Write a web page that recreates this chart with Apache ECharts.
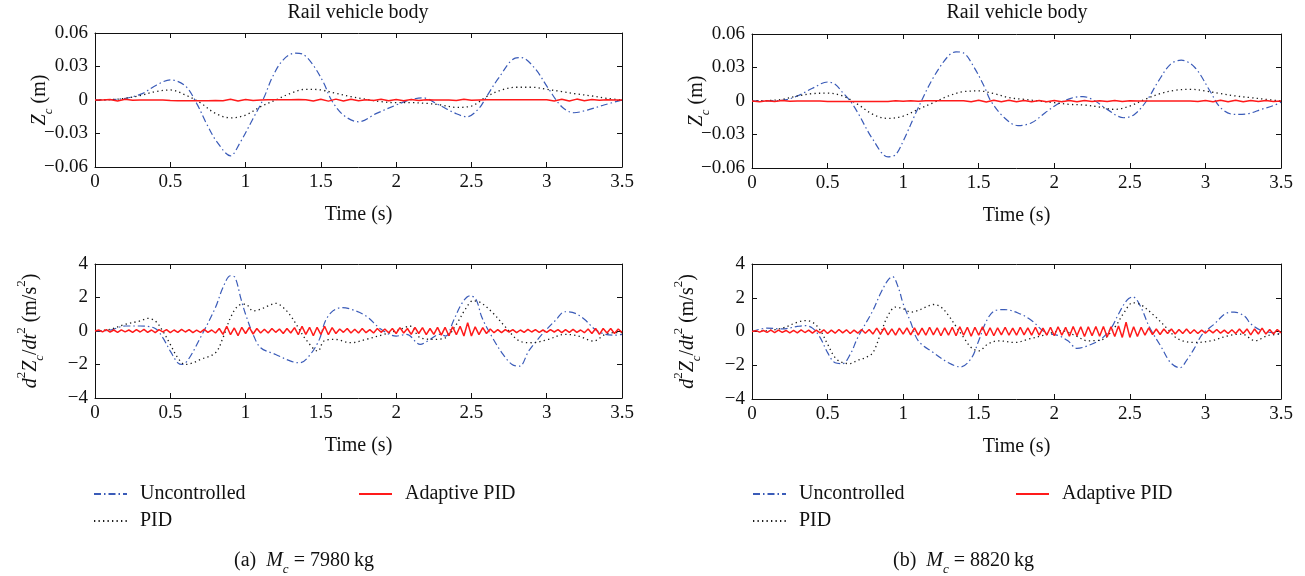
<!DOCTYPE html>
<html>
  <head>
    <meta charset="utf-8" />
    <title>Rail vehicle body</title>
    <script src="https://cdn.jsdelivr.net/npm/echarts@6/dist/echarts.min.js"></script>
  </head>
  <body style="margin:0;background:#fff">
    <div id="container" style="width:1305px;height:576px;"></div>

    <script type="text/javascript">
    // ---- data ----
    // 0.1 s grid used by the PID traces of the top plots
    var t10 = [0, 0.1, 0.2, 0.3, 0.4, 0.5, 0.6, 0.7, 0.8, 0.9, 1.0, 1.1, 1.2, 1.3, 1.4, 1.5, 1.6, 1.7, 1.8, 1.9,
      2.0, 2.1, 2.2, 2.3, 2.4, 2.5, 2.6, 2.7, 2.8, 2.9, 3.0, 3.1, 3.2, 3.3, 3.4, 3.5];
    var dtRedTop = 0.05;   // sample step of the Adaptive PID trace, top plots
    var dtRedBot = 0.025;  // sample step of the Adaptive PID trace, bottom plots

    // (a) Mc = 7980 kg, displacement Zc (m)
    var aTopUncT = [0, 0.14, 0.3, 0.41, 0.5, 0.6, 0.675, 0.74, 0.81, 0.9, 0.96, 1.05, 1.12, 1.18, 1.25, 1.33, 1.38, 1.45, 1.52, 1.57,
      1.65, 1.75, 1.87, 2.0, 2.09, 2.175, 2.285, 2.395, 2.47, 2.55, 2.6, 2.68, 2.79, 2.83, 2.92, 3.01, 3.1, 3.18, 3.27, 3.38, 3.5];
    var aTopUncV = [0, 0.0005, 0.005, 0.0135, 0.018, 0.0126, -0.003, -0.021, -0.0375, -0.05, -0.039, -0.0165, 0.0015, 0.021, 0.036, 0.042, 0.041, 0.031, 0.015, 0,
      -0.0135, -0.0195, -0.012, -0.0045, 0, 0.002, -0.0045, -0.012, -0.015, -0.0075, 0.003, 0.0195, 0.0375, 0.038, 0.0285, 0.0105, -0.006, -0.0114, -0.009, -0.0045, 0];
    var aTopPidV = [0, 0.0003, 0.0015, 0.004, 0.0075, 0.009, 0.0045, -0.0025, -0.012, -0.016, -0.0135, -0.006, 0, 0.006, 0.0096, 0.009, 0.006, 0.003, 0.0006, -0.0015,
      -0.0024, -0.0024, -0.003, -0.0045, -0.0066, -0.0054, 0.003, 0.009, 0.0114, 0.0114, 0.0096, 0.0075, 0.0054, 0.0036, 0.0015, 0];
    var aTopApidV = [0, 0, 0.0005, -0.0008, 0.0006, -0.0003, 0, 0, 0, 0,
      -0.0005, -0.0006, -0.0006, -0.0006, -0.0006, -0.0006, -0.0005, -0.0006,
      0.0006, -0.0008, 0.0005, -0.0004, 0, 0.0003,
      0.0003, 0.0003, 0.0003, 0.0004,
      0.0002, -0.0009, 0.0007, -0.001, 0.0008, -0.0009, 0.0007, -0.0006,
      0.0003, -0.0005, 0.0006, -0.0006, 0.0005, -0.0007, 0.0004, -0.0004, 0.0003, 0,
      0, 0, -0.0004, 0.0006, -0.0003, 0, 0.0002, 0.0003, 0.0003, 0.0003, 0.0003, 0.0003, 0.0003, 0.0003,
      0.0002, -0.0008, 0.0007, -0.0009, 0.0008, -0.0006, 0.0004, -0.0003, 0.0002, 0, 0];

    // (a) acceleration d2Zc/dt2 (m/s2)
    var aBotUncT = [0, 0.1, 0.2, 0.3, 0.4, 0.45, 0.5, 0.55, 0.58, 0.62, 0.7, 0.8, 0.85, 0.9, 0.93, 0.97, 1.0, 1.05, 1.1, 1.2,
      1.3, 1.36, 1.43, 1.49, 1.53, 1.58, 1.64, 1.7, 1.8, 1.9, 2.0, 2.07, 2.16, 2.21, 2.29, 2.33, 2.38, 2.44, 2.49, 2.53,
      2.57, 2.64, 2.71, 2.77, 2.82, 2.88, 2.95, 3.0, 3.06, 3.12, 3.19, 3.25, 3.32, 3.39, 3.45, 3.5];
    var aBotUncV = [0, 0.05, 0.3, 0.3, 0.15, -0.4, -1.2, -1.9, -2.0, -1.7, -0.4, 1.4, 2.6, 3.3, 3.2, 1.9, 1.0, -0.2, -1.0, -1.4,
      -1.8, -1.9, -1.4, -0.5, 0.6, 1.2, 1.4, 1.3, 0.9, 0.1, -0.3, -0.2, -0.8, -0.6, -0.2, -0.3, 0.6, 1.7, 2.1, 1.9,
      0.8, -0.4, -1.4, -2.0, -2.1, -1.2, -0.4, 0.1, 0.65, 1.15, 1.05, 0.7, 0.1, -0.2, -0.25, -0.2];
    var aBotPidT = [0, 0.1, 0.2, 0.3, 0.35, 0.4, 0.45, 0.5, 0.55, 0.6, 0.65, 0.7, 0.8, 0.85, 0.9, 0.95, 1.0, 1.05, 1.1, 1.15,
      1.2, 1.25, 1.3, 1.35, 1.4, 1.48, 1.52, 1.59, 1.7, 1.8, 1.92, 2.03, 2.09, 2.16, 2.25, 2.33, 2.4, 2.46, 2.51, 2.56,
      2.64, 2.73, 2.82, 2.9, 3.01, 3.12, 3.21, 3.31, 3.39, 3.45, 3.5];
    var aBotPidV = [0, 0.1, 0.4, 0.6, 0.75, 0.6, 0, -0.8, -1.6, -2.0, -1.9, -1.7, -1.3, -0.4, 0.8, 1.5, 1.6, 1.2, 1.3, 1.5,
      1.65, 1.4, 0.9, 0.2, -0.5, -1.2, -0.6, -0.5, -0.7, -0.5, -0.2, 0.1, 0.3, -0.4, -0.5, -0.4, 0.4, 1.3, 1.8, 1.7,
      1.1, 0.2, -0.6, -0.7, -0.5, -0.2, -0.3, -0.6, -0.2, -0.1, -0.1];
    var aBotApidV = [0, 0.06, -0.05, 0.08, -0.06, 0.06, -0.08, 0.07, -0.05, 0.06, -0.08, 0.08,
      -0.06, 0.1, -0.08, 0.06, -0.1, 0.08, -0.05, 0.08, -0.1, 0.06, -0.08, 0.1, -0.06, 0.08, -0.1, 0.05, -0.08, 0.1, -0.08, 0.06,
      -0.12, 0.15, -0.2, 0.28, -0.22, 0.18, -0.28, 0.22, -0.15, 0.22, -0.18, 0.15,
      -0.12, 0.1, -0.12, 0.15, -0.08, 0.12, -0.15, 0.15, -0.12, 0.2,
      -0.22, 0.28, -0.2, 0.22, -0.28, 0.22, -0.2, 0.28, -0.22, 0.2,
      -0.15, 0.12, -0.08, 0.15, -0.12, 0.1, -0.12, 0.15, -0.1, 0.08, -0.12, 0.15, -0.08, 0.12, -0.1, 0.15,
      -0.15, 0.2, -0.12, 0.15, -0.2, 0.22, -0.15, 0.2, -0.22, 0.15, -0.2, 0.22,
      -0.25, 0.22, -0.28, 0.25, -0.22, 0.28, -0.3, 0.5, -0.3, 0.25, -0.22, 0.2, -0.15,
      0.12, -0.1, 0.08, -0.1, 0.08, -0.06, 0.08, -0.1, 0.06, -0.08, 0.1, -0.06, 0.08, -0.08, 0.06, -0.08,
      0.08, -0.06, 0.08, -0.1, 0.08, -0.08, 0.1, -0.08, 0.06, -0.1, 0.12, -0.15,
      0.15, -0.2, 0.15, -0.12, 0.15, -0.15, 0.12, -0.08];

    // (b) Mc = 8820 kg, displacement Zc (m)
    var bTopUncT = [0, 0.2, 0.3, 0.4, 0.5, 0.55, 0.6, 0.65, 0.7, 0.8, 0.9, 0.95, 1.0, 1.1, 1.2, 1.3, 1.35, 1.4, 1.47, 1.54,
      1.58, 1.67, 1.76, 1.85, 1.94, 2.02, 2.11, 2.19, 2.27, 2.35, 2.46, 2.53, 2.61, 2.69, 2.77, 2.84, 2.93, 3.03, 3.1, 3.19,
      3.28, 3.37, 3.46, 3.5];
    var bTopUncV = [0, 0.0006, 0.0045, 0.0114, 0.017, 0.015, 0.0075, 0, -0.0105, -0.0345, -0.05, -0.048, -0.036, -0.006, 0.021, 0.0405, 0.044, 0.043, 0.03, 0.012,
      0, -0.015, -0.022, -0.0195, -0.0105, -0.003, 0.0024, 0.004, 0, -0.0075, -0.015, -0.012, 0, 0.018, 0.033, 0.0366, 0.03, 0.009, -0.006, -0.012,
      -0.0114, -0.0075, -0.0036, -0.001];
    var bTopPidV = [0, 0.0003, 0.0015, 0.0045, 0.0066, 0.007, 0.0045, -0.003, -0.012, -0.0156, -0.0135, -0.0075, -0.0015, 0.0045, 0.0084, 0.009, 0.0066, 0.003, 0.0015, 0,
      -0.0015, -0.003, -0.0036, -0.0054, -0.0075, -0.0045, 0.0015, 0.0066, 0.0096, 0.0105, 0.009, 0.0066, 0.0045, 0.003, 0.0015, 0];
    var bTopApidV = [0, -0.0006, 0.0003, -0.0005, 0.0004, -0.0003, 0, 0, 0, 0,
      -0.0004, -0.0005, -0.0005, -0.0005, -0.0005, -0.0005, -0.0005, -0.0005,
      -0.0004, 0.0003, -0.0003, 0.0003, -0.0002, 0.0002,
      0.0003, 0.0003, 0.0003, 0.0003,
      0.0003, -0.0007, 0.0006, -0.0008, 0.0007, -0.0007, 0.0006, -0.0006,
      0.0005, -0.0006, 0.0005, -0.0006, 0.0005, -0.0006, 0.0005, -0.0006, 0.0004, -0.0004,
      0.0003, -0.0005, 0.0004, -0.0004, 0.0002, 0, 0.0001, 0.0001, 0.0001, 0.0001, 0.0001, 0.0001, 0.0001, -0.0004,
      0.0005, -0.0007, 0.0006, -0.0007, 0.0006, -0.0006, 0.0005, -0.0005, 0.0004, -0.0004, 0];

    // (b) acceleration d2Zc/dt2 (m/s2)
    var bBotUncT = [0, 0.1, 0.2, 0.3, 0.35, 0.4, 0.45, 0.5, 0.55, 0.6, 0.65, 0.7, 0.8, 0.85, 0.9, 0.93, 0.97, 1.0, 1.05, 1.1,
      1.2, 1.3, 1.38, 1.45, 1.5, 1.55, 1.6, 1.67, 1.76, 1.85, 1.94, 2.03, 2.09, 2.15, 2.22, 2.31, 2.38, 2.42, 2.48, 2.52,
      2.57, 2.63, 2.71, 2.77, 2.83, 2.88, 2.93, 2.98, 3.06, 3.13, 3.19, 3.26, 3.3, 3.37, 3.43, 3.5];
    var bBotUncV = [0, 0.2, 0.15, 0.3, 0.35, 0.2, -0.35, -1.25, -1.85, -1.9, -1.35, -0.35, 1.25, 2.25, 3.05, 3.25, 2.55, 1.65, 0.55, -0.55,
      -1.25, -1.85, -2.1, -1.6, -0.55, 0.6, 1.2, 1.3, 1.1, 0.65, -0.05, -0.25, -0.55, -1.0, -0.85, -0.45, 0.25, 0.95, 1.85, 2.05,
      1.5, 0.25, -0.95, -1.85, -2.15, -1.65, -0.95, -0.15, 0.45, 1.05, 1.15, 0.9, 0.45, 0.05, -0.05, -0.15];
    var bBotPidT = [0, 0.1, 0.2, 0.3, 0.35, 0.4, 0.45, 0.5, 0.55, 0.6, 0.65, 0.7, 0.75, 0.8, 0.85, 0.9, 0.95, 1.0, 1.05, 1.1,
      1.15, 1.2, 1.25, 1.3, 1.35, 1.4, 1.45, 1.5, 1.56, 1.63, 1.74, 1.83, 1.94, 2.05, 2.14, 2.22, 2.31, 2.4, 2.46, 2.52,
      2.57, 2.66, 2.75, 2.82, 2.93, 3.04, 3.15, 3.24, 3.33, 3.41, 3.5];
    var bBotPidV = [0, 0.05, 0.2, 0.55, 0.65, 0.55, 0.1, -0.75, -1.55, -1.85, -1.9, -1.7, -1.55, -1.25, -0.15, 0.95, 1.45, 1.35, 1.15, 1.25,
      1.45, 1.6, 1.45, 0.95, 0.3, -0.35, -0.95, -1.15, -0.75, -0.55, -0.65, -0.45, -0.2, 0.05, -0.25, -0.55, -0.5, 0.25, 1.1, 1.7,
      1.6, 0.95, 0.15, -0.45, -0.65, -0.55, -0.25, -0.15, -0.55, -0.25, -0.15];
    var bBotApidV = [0, 0.05, -0.04, 0.06, -0.05, 0.08, -0.06, 0.08, -0.05, 0.06, -0.08, 0.06,
      -0.08, 0.1, -0.06, 0.08, -0.1, 0.08, -0.08, 0.1, -0.12, 0.08, -0.1, 0.12, -0.08, 0.1, -0.12, 0.08, -0.1, 0.12, -0.1, 0.12,
      -0.15, 0.2, -0.15, 0.22, -0.2, 0.15, -0.22, 0.2, -0.15, 0.22, -0.2, 0.22,
      -0.22, 0.2, -0.22, 0.25, -0.2, 0.22, -0.25, 0.22, -0.22, 0.25,
      -0.25, 0.28, -0.22, 0.25, -0.28, 0.25, -0.22, 0.28, -0.25, 0.22,
      -0.25, 0.22, -0.2, 0.25, -0.22, 0.2, -0.22, 0.25, -0.2, 0.22, -0.22, 0.25, -0.22, 0.2, -0.22, 0.25,
      -0.25, 0.28, -0.22, 0.25, -0.28, 0.3, -0.25, 0.28, -0.3, 0.28, -0.25, 0.3,
      -0.28, 0.3, -0.32, 0.28, -0.3, 0.32, -0.35, 0.55, -0.35, 0.28, -0.3, 0.25, -0.22,
      0.22, -0.18, 0.15, -0.18, 0.15, -0.12, 0.15, -0.15, 0.12, -0.12, 0.15, -0.12, 0.1, -0.12, 0.08, -0.1,
      0.1, -0.08, 0.12, -0.1, 0.08, -0.12, 0.1, -0.12, 0.15, -0.12, 0.15, -0.2,
      0.15, -0.15, 0.2, -0.15, 0.12, -0.15, 0.12, -0.08];

    var xTicks = [0, 3.5, 0.5];          // min, max, interval (s)
    var zTicks = [-0.06, 0.06, 0.03];    // displacement axis
    var accTicks = [-4, 4, 2];           // acceleration axis
    var legendNames = ['Uncontrolled', 'PID', 'Adaptive PID'];
    var titleText = 'Rail vehicle body';
    var captions = ['(a)  {i|M}{sub|c} = 7980\u2009kg', '(b)  {i|M}{sub|c} = 8820\u2009kg'];

    // ---- helpers ----
    function zip(ts, vs) {
      return vs.map(function (v, i) { return [ts[i], v]; });
    }
    function regular(vs, dt) {
      return vs.map(function (v, i) { return [Math.round(i * dt * 1000) / 1000, v]; });
    }
    function minusFmt(v) {
      if (Math.abs(v) < 1e-9) return '0';
      var s = Math.abs(v) < 1 ? Math.abs(v).toFixed(2) : String(Math.abs(v));
      return (v < 0 ? '\u2212' : '') + s;
    }

    var FONT = '"Liberation Serif", "DejaVu Serif", serif';
    var richSub = {
      i: { fontStyle: 'italic', fontSize: 20, fontFamily: FONT, color: '#111' },
      sub: { fontStyle: 'italic', fontSize: 13, fontFamily: FONT, color: '#111', verticalAlign: 'bottom', padding: [0, 0, -5, 0] },
      sup: { fontSize: 13, fontFamily: FONT, color: '#111', verticalAlign: 'top', padding: [-6, 0, 0, 0] },
      t: { fontSize: 20, fontFamily: FONT, color: '#111' }
    };

    var grids = [
      { left: 95, top: 33, width: 527, height: 134 },
      { left: 95, top: 264, width: 527, height: 134 },
      { left: 752, top: 34, width: 529, height: 134 },
      { left: 752, top: 264, width: 529, height: 135 }
    ];
    var yNames = [
      '{i|Z}{sub|c}{t| (m)}',
      '{i|d}{sup|2}{i|Z}{sub|c}{t|/}{i|dt}{sup|2}{t| (m/s}{sup|2}{t|)}'
    ];

    var xAxes = [], yAxes = [];
    grids.forEach(function (g, gi) {
      var isAcc = gi % 2 === 1;
      var yr = isAcc ? accTicks : zTicks;
      var lineCol = { show: true, onZero: false, lineStyle: { color: '#111', width: 1 } };
      var tick = { show: true, inside: true, length: 5, lineStyle: { color: '#111' } };
      xAxes.push({
        gridIndex: gi, type: 'value', min: xTicks[0], max: xTicks[1], interval: xTicks[2],
        position: 'bottom', axisLine: lineCol, axisTick: tick, splitLine: { show: false },
        axisLabel: { color: '#111', fontSize: 19, fontFamily: FONT, margin: 6, formatter: function (v) { return String(v); } },
        name: 'Time (s)', nameLocation: 'middle', nameGap: 38, nameMoveOverlap: false,
        nameTextStyle: { color: '#111', fontSize: 20, fontFamily: FONT }
      });
      xAxes.push({
        gridIndex: gi, type: 'value', min: xTicks[0], max: xTicks[1], interval: xTicks[2],
        position: 'top', axisLine: lineCol, axisTick: tick, axisLabel: { show: false }, splitLine: { show: false }
      });
      yAxes.push({
        gridIndex: gi, type: 'value', min: yr[0], max: yr[1], interval: yr[2],
        position: 'left', axisLine: lineCol, axisTick: tick, splitLine: { show: false },
        axisLabel: { color: '#111', fontSize: 19, fontFamily: FONT, margin: 7, formatter: minusFmt },
        name: yNames[isAcc ? 1 : 0], nameLocation: 'middle', nameGap: isAcc ? 54 : 45, nameRotate: 90,
        nameMoveOverlap: false,
        nameTextStyle: { rich: richSub, fontFamily: FONT, fontSize: 20, color: '#111' }
      });
      yAxes.push({
        gridIndex: gi, type: 'value', min: yr[0], max: yr[1], interval: yr[2],
        position: 'right', axisLine: lineCol, axisTick: tick, axisLabel: { show: false }, splitLine: { show: false }
      });
    });

    var uncStyle = { color: '#3a5bb8', width: 1.2, type: [7, 3, 1.5, 3] };
    var pidStyle = { color: '#1a1a1a', width: 1.3, type: [1.3, 3.2] };
    var apidStyle = { color: '#ff1a1a', width: 1.5, type: 'solid' };

    var panelData = [
      [zip(aTopUncT, aTopUncV), zip(t10, aTopPidV), regular(aTopApidV, dtRedTop)],
      [zip(aBotUncT, aBotUncV), zip(aBotPidT, aBotPidV), regular(aBotApidV, dtRedBot)],
      [zip(bTopUncT, bTopUncV), zip(t10, bTopPidV), regular(bTopApidV, dtRedTop)],
      [zip(bBotUncT, bBotUncV), zip(bBotPidT, bBotPidV), regular(bBotApidV, dtRedBot)]
    ];
    var styles = [uncStyle, pidStyle, apidStyle];

    var series = [];
    panelData.forEach(function (sets, gi) {
      sets.forEach(function (d, si) {
        series.push({
          name: legendNames[si], type: 'line', xAxisIndex: gi * 2, yAxisIndex: gi * 2,
          data: d, symbol: 'none', smooth: si < 2 ? 0.35 : false,
          lineStyle: styles[si], itemStyle: { color: styles[si].color },
          silent: true, z: 2 + si
        });
      });
    });

    // legend blocks: each item placed like the figure's two-column key
    var legendSpots = [
      { name: 'Uncontrolled', left: 93, top: 484 },
      { name: 'Adaptive PID', left: 358, top: 484 },
      { name: 'PID', left: 93, top: 511 },
      { name: 'Uncontrolled', left: 752, top: 484 },
      { name: 'Adaptive PID', left: 1015, top: 484 },
      { name: 'PID', left: 752, top: 511 }
    ];
    var legends = legendSpots.map(function (s) {
      return {
        data: [s.name], left: s.left, top: s.top, padding: 0, itemWidth: 33, itemHeight: 14,
        selectedMode: false, itemStyle: { opacity: 0 },
        textStyle: { color: '#111', fontSize: 20, fontFamily: FONT, padding: [0, 0, 0, 8] }
      };
    });

    var titles = [
      { text: titleText, left: 358, top: 3, textAlign: 'center', padding: 0,
        textStyle: { fontSize: 20, fontWeight: 'normal', color: '#111', fontFamily: FONT } },
      { text: titleText, left: 1017, top: 3, textAlign: 'center', padding: 0,
        textStyle: { fontSize: 20, fontWeight: 'normal', color: '#111', fontFamily: FONT } },
      { text: captions[0], left: 234, top: 551, padding: 0,
        textStyle: { fontSize: 20, fontWeight: 'normal', color: '#111', fontFamily: FONT, rich: richSub } },
      { text: captions[1], left: 893, top: 551, padding: 0,
        textStyle: { fontSize: 20, fontWeight: 'normal', color: '#111', fontFamily: FONT, rich: richSub } }
    ];

    var myChart = echarts.init(document.getElementById('container'));
    var option = {
      animation: false,
      backgroundColor: '#fff',
      title: titles,
      legend: legends,
      grid: grids,
      xAxis: xAxes,
      yAxis: yAxes,
      series: series
    };
    myChart.setOption(option);
    window.addEventListener('resize', myChart.resize);
    </script>
  </body>
</html>
